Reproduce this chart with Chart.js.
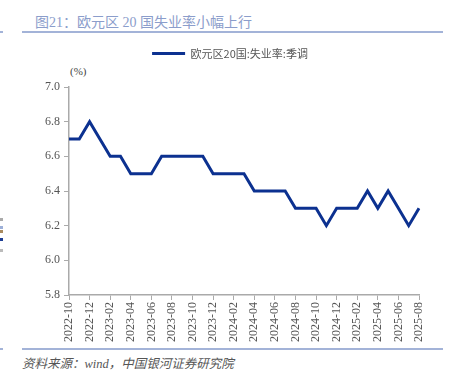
<!DOCTYPE html>
<html>
<head>
<meta charset="utf-8">
<script src="https://cdn.jsdelivr.net/npm/chart.js@4"></script>
<style>
  body { margin: 0; background: #fff; width: 451px; height: 371px; overflow: hidden; position: relative; }
  .title { position: absolute; left: 35px; top: 11px; font: 14px "Liberation Serif", "Noto Sans CJK SC"; color: #8b9dcb; white-space: nowrap; }
  .rule { position: absolute; height: 2px; background: #a3b3d8; }
  .unit { position: absolute; left: 70px; top: 65px; font: 11px "Liberation Serif"; color: #444; }
  .source { position: absolute; left: 22px; top: 353px; font: italic 12.5px "Liberation Serif", "Noto Sans CJK SC"; color: #555; white-space: nowrap; }
  .mark { position: absolute; left: 0; width: 3px; height: 3px; }
  #wrap { position: absolute; left: 0; top: 31px; width: 451px; height: 313px; }
</style>
</head>
<body>
<div class="title">图21：欧元区 20 国失业率小幅上行</div>
<div class="rule" style="left:22px;top:31px;width:421px"></div>
<div class="rule" style="left:0;top:31px;width:3px"></div>
<div class="unit">(%)</div>
<div class="rule" style="left:22px;top:348px;width:421px"></div>
<div class="rule" style="left:0;top:348px;width:3px"></div>
<div class="source">资料来源：wind，中国银河证券研究院</div>
<div class="mark" style="top:218px;background:#aaa"></div>
<div class="mark" style="top:226px;background:#9db0d8"></div>
<div class="mark" style="top:230px;background:#a98a5e"></div>
<div class="mark" style="top:238px;background:#1d3d93"></div>
<div class="mark" style="top:249px;background:#bbb"></div>
<div id="wrap"><canvas id="myChart"></canvas></div>
<script>
const canvas = document.getElementById('myChart')

// maandelijkse data
const months = ['2022-10','2022-11','2022-12','2023-01','2023-02','2023-03','2023-04','2023-05','2023-06',
  '2023-07','2023-08','2023-09','2023-10','2023-11','2023-12','2024-01','2024-02','2024-03','2024-04',
  '2024-05','2024-06','2024-07','2024-08','2024-09','2024-10','2024-11','2024-12','2025-01','2025-02',
  '2025-03','2025-04','2025-05','2025-06','2025-07','2025-08']
const unemployment = [6.7,6.7,6.8,6.7,6.6,6.6,6.5,6.5,6.5,
  6.6,6.6,6.6,6.6,6.6,6.5,6.5,6.5,6.5,6.4,
  6.4,6.4,6.4,6.3,6.3,6.3,6.2,6.3,6.3,6.3,
  6.4,6.3,6.4,6.3,6.2,6.3]
const seriesName = '欧元区20国:失业率:季调'
const yTicks = [5.8, 6.0, 6.2, 6.4, 6.6, 6.8, 7.0]

const axisColor = '#aaaaaa'
const lineColor = '#0c3190'
const tickFont = { family: 'Liberation Serif', size: 12 }

// extra ruimte onder de legenda
const legendGap = {
    id: 'legendGap',
    afterInit(chart) {
        const fit = chart.legend.fit
        chart.legend.fit = function () {
            fit.call(this)
            this.height += 18
        }
    }
}

const myChart = new Chart(canvas, {
    type: 'line',
    data: {
        labels: months,
        datasets: [{
            label: seriesName,
            data: unemployment,
            borderColor: lineColor,
            backgroundColor: lineColor,
            borderWidth: 3,
            pointRadius: 0,
            tension: 0
        }]
    },
    plugins: [legendGap],
    options: {
        responsive: true,
        maintainAspectRatio: false,
        animation: false,
        layout: {
            padding: { left: 41, right: 32, top: 0, bottom: 0 }
        },
        plugins: {
            tooltip: { enabled: false },
            legend: {
                display: true,
                labels: {
                    boxWidth: 33,
                    boxHeight: 3,
                    padding: 17,
                    color: '#555',
                    font: { family: 'Noto Sans CJK SC', size: 11 },
                    generateLabels: chart => Chart.defaults.plugins.legend.labels.generateLabels(chart)
                        .map(item => ({ ...item, lineWidth: 0 }))
                }
            }
        },
        scales: {
            x: {
                offset: false,
                grid: { drawOnChartArea: false, drawTicks: true, tickLength: 5, color: axisColor },
                border: { color: axisColor, width: 1.5 },
                afterBuildTicks: scale => {
                    scale.ticks = scale.ticks.filter((t, i) => i % 2 === 0)
                },
                ticks: {
                    autoSkip: false,
                    maxRotation: 90,
                    minRotation: 90,
                    padding: 2,
                    color: '#555',
                    font: tickFont
                }
            },
            y: {
                min: yTicks[0],
                max: yTicks[yTicks.length - 1],
                afterBuildTicks: scale => {
                    scale.ticks = yTicks.map(v => ({ value: v }))
                },
                grid: { drawOnChartArea: false, drawTicks: true, tickLength: 5, color: axisColor },
                border: { color: axisColor, width: 1.5 },
                ticks: {
                    padding: 4,
                    color: '#555',
                    font: tickFont,
                    callback: v => Number(v).toFixed(1)
                }
            }
        }
    }
})
</script>
</body>
</html>
